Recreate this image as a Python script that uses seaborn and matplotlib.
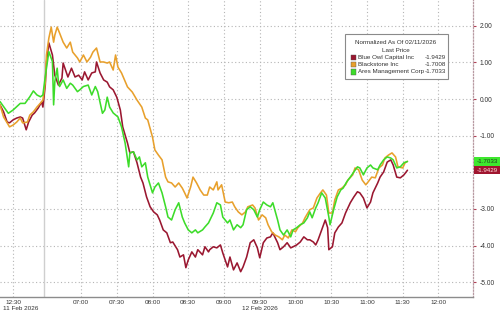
import numpy as np
import pandas as pd
import matplotlib
matplotlib.use("Agg")
import matplotlib.pyplot as plt
import matplotlib.transforms as mtransforms
from matplotlib.patches import Rectangle
from matplotlib import font_manager
import seaborn as sns

# ---------------- data (compressed trading-time minutes, normalized %) ----------------
green_t = [0, 7, 11, 17, 21, 25, 28, 31, 34, 36, 38, 39, 41, 44, 45, 46, 48, 49, 50, 53, 56, 59, 61, 65, 67, 70, 74, 77, 80, 82,
           86, 88, 90, 92, 95, 99, 102, 105, 108, 109, 112, 115, 117, 119, 122, 124, 128, 130, 133, 136, 139, 141, 144, 147, 150,
           153, 155, 158, 161, 164, 166, 170, 172, 175, 179, 182, 185, 187, 191, 193, 196, 199, 202, 204, 207, 210, 213, 216, 218,
           221, 224, 227, 229, 233, 235, 238, 241, 244, 246, 249, 252, 255, 258, 260, 262, 265, 267, 270, 273, 276, 277, 280, 283,
           286, 288, 291, 294, 297, 300, 302, 305, 308, 311, 313, 317, 319, 322, 325, 328, 330, 333, 336, 339, 342]
green_v = [-0.07, -0.39, -0.30, -0.12, -0.12, 0.06, 0.22, 0.11, 0.06, 0.11, 0.61, 0.84, 1.29, 1.02, -0.16, 0.47, 0.84, 0.47, 0.34,
           0.52, 0.29, 0.43, 0.38, 0.20, 0.25, 0.34, 0.38, 0.11, 0.34, 0.20,
           -0.39, -0.30, 0.05, -0.22, -0.38, -0.49, -0.76, -1.20, -1.85, -1.47, -1.44, -1.66, -1.58, -1.85, -1.74, -2.13, -2.56,
           -2.40, -2.29, -2.56, -2.94, -3.22, -3.30, -3.02, -2.83,
           -3.22, -3.38, -3.57, -3.65, -3.57, -3.65, -3.57, -3.49, -3.38, -3.11, -2.83, -2.89, -3.22, -3.38, -3.30, -3.57, -3.43,
           -3.51, -3.43, -3.02, -2.94, -3.02, -3.22, -3.02,
           -2.81, -2.89, -2.94, -2.83, -3.30, -3.57, -3.71, -3.57, -3.76, -3.57, -3.51, -3.43, -3.38, -3.24, -3.08, -3.24, -2.97,
           -2.83, -2.56, -2.70, -3.22, -3.43, -3.02, -2.67,
           -2.48, -2.43, -2.26, -2.13, -1.99, -1.85, -1.88, -2.07, -1.88, -1.80, -1.88, -1.93, -1.80, -1.66, -1.58, -1.61, -1.66,
           -1.88, -1.85, -1.74, -1.7033]

orange_t = [0, 3, 6, 8, 11, 14, 17, 19, 23, 25, 28, 31, 34, 36, 38, 39, 41, 43, 45, 46, 48, 50, 53, 56, 59, 61, 65, 67, 70, 73,
            76, 78, 81, 84, 87, 90, 92, 95, 97, 99, 102, 107, 111, 115, 119, 122, 124, 128, 130, 133, 136, 139, 141, 144, 147,
            150, 153, 155, 157, 160, 162, 165, 168, 171, 174, 176, 179, 182, 183, 186, 189, 192, 195, 197, 200, 203, 206, 208,
            212, 214, 217, 220, 223, 225, 228, 231, 234, 237, 239, 242, 245, 248, 250, 254, 256, 260, 263, 266, 269, 271, 274,
            276, 279, 281, 284, 287, 290, 292, 296, 298, 301, 304, 307, 309, 312, 315, 318, 321, 323, 326, 329, 332, 334, 338,
            340, 342]
orange_v = [-0.16, -0.49, -0.65, -0.76, -0.71, -0.63, -0.52, -0.65, -0.63, -0.44, -0.35, -0.22, -0.11, -0.03, 0.46, 1.20, 1.66,
            1.96, 1.55, 1.74, 1.96, 1.80, 1.55, 1.39, 1.55, 1.28, 1.12, 1.01, 1.20, 1.01,
            1.14, 1.28, 1.39, 1.01, 1.01, 0.98, 1.01, 0.79, 1.20, 0.87, 0.71, 0.33, 0.19, -0.03, -0.22, -0.52, -0.57, -1.04,
            -1.39, -1.53, -1.66, -2.13, -2.26, -2.29, -2.40,
            -2.29, -2.43, -2.56, -2.70, -2.40, -2.13, -2.29, -2.48, -2.62, -2.62, -2.40, -2.48, -2.26, -2.48, -2.34, -2.81,
            -2.83, -2.81, -2.94, -3.08, -3.16, -3.08, -2.94,
            -2.89, -2.97, -3.30, -3.16, -3.24, -3.43, -3.62, -3.71, -3.76, -3.84, -3.71, -3.79, -3.57, -3.62, -3.51, -3.38,
            -3.24, -3.02, -2.97, -2.70, -2.56, -2.48, -2.62,
            -3.11, -3.11, -2.75, -2.48, -2.43, -2.34, -2.21, -2.07, -1.88, -1.93, -2.21, -2.34, -2.26, -2.13, -2.15, -1.88,
            -1.80, -1.61, -1.53, -1.47, -1.58, -1.85, -1.88,
            -1.74, -1.7008]

red_t = [0, 3, 6, 8, 11, 14, 17, 19, 22, 24, 27, 29, 32, 35, 36, 38, 39, 41, 44, 46, 49, 52, 53, 55, 57, 60, 63, 66, 69, 71,
         74, 77, 80, 81, 84, 87, 90, 92, 95, 98, 101, 103, 107, 109, 112, 115, 118, 120, 123, 126, 129, 132, 134, 137, 140,
         143, 145, 149, 151, 154, 156, 158, 161, 164, 166, 170, 172, 175, 176, 179, 182, 185, 187, 191, 193, 196, 199, 202,
         204, 207, 210, 213, 216, 218, 221, 224, 227, 229, 233, 235, 238, 241, 244, 246, 249, 252, 255, 258, 260, 263, 265,
         267, 270, 273, 275, 276, 279, 281, 284, 287, 290, 294, 297, 300, 302, 305, 308, 311, 313, 317, 319, 322, 325, 328,
         330, 333, 336, 339, 342]
red_v = [-0.16, -0.35, -0.63, -0.65, -0.57, -0.52, -0.49, -0.52, -0.84, -0.63, -0.44, -0.38, -0.25, -0.08, -0.22, 0.38, 1.01,
         1.53, 1.20, 0.65, 0.38, 0.57, 0.98, 0.79, 0.60, 0.84, 0.60, 0.65, 0.52, 0.74,
         0.52, 0.71, 0.74, 1.01, 0.71, 0.52, 0.46, 0.33, 0.25, 0.05, -0.30, -0.76, -1.20, -1.47, -1.44, -1.74, -2.13, -2.29,
         -2.67, -2.94, -3.08, -3.16, -3.30, -3.57, -3.65,
         -3.92, -3.90, -4.11, -4.31, -4.25, -4.60, -4.39, -4.17, -4.31, -4.11, -4.25, -4.03, -4.17, -4.11, -4.03, -4.06,
         -3.98, -4.20, -4.58, -4.31, -4.66, -4.47, -4.71,
         -4.58, -4.31, -3.92, -3.84, -4.06, -4.33, -3.92, -3.79, -3.76, -3.65, -3.92, -4.11, -4.03, -3.92, -4.06, -4.03,
         -3.98, -3.90, -3.76, -3.84, -3.84, -3.90, -3.98,
         -3.84, -3.57, -3.30, -3.51, -4.11, -4.03, -3.65, -3.49, -3.38, -3.11, -2.83, -2.67, -2.53, -2.56, -2.70, -2.97,
         -2.81, -2.56, -2.29, -2.13, -1.99, -1.72, -1.66,
         -1.80, -2.13, -2.15, -2.07, -1.9429]

series_names = ["Blue Owl Capital Inc", "Blackstone Inc", "Ares Management Corp"]
last_values = [-1.9429, -1.7008, -1.7033]
series_colors = ["#9a1730", "#e8a02c", "#3ddc2a"]

# x-axis labels (compressed time axis)
tick_labels = ["12:30", "07:00", "07:30", "08:00", "08:30", "09:00", "09:30", "10:00", "10:30", "11:00", "11:30", "12:00"]
tick_pos = [11, 68, 98, 128, 158, 188, 218, 248, 278, 308, 338, 368]
day_break = 37
y_ticks = [2, 1, 0, -1, -2, -3, -4, -5]

# ---------------- fonts ----------------
sns.set_theme(style="white")
available = {f.name for f in font_manager.fontManager.ttflist}
if "Liberation Sans Narrow" in available:
    FONT = ["Liberation Sans Narrow", "Liberation Sans", "DejaVu Sans"]
    FS = 5.1
else:
    FONT = ["Liberation Sans", "DejaVu Sans"]
    FS = 4.2
plt.rcParams['font.family'] = FONT

# ---------------- figure ----------------
W, H = 500, 312
fig = plt.figure(figsize=(W / 100, H / 100), dpi=100)
fig.patch.set_facecolor("white")
ax = fig.add_axes([0, 15 / H, 473 / W, 297 / H])

df = pd.concat([
    pd.DataFrame({"t": red_t, "v": red_v, "series": series_names[0]}),
    pd.DataFrame({"t": orange_t, "v": orange_v, "series": series_names[1]}),
    pd.DataFrame({"t": green_t, "v": green_v, "series": series_names[2]}),
])
palette = dict(zip(series_names, series_colors))
sns.lineplot(data=df, x="t", y="v", hue="series", hue_order=series_names, palette=palette,
             estimator=None, sort=False, legend=False, lw=1.15, ax=ax)

ax.set_xlim(0, 397)
ax.set_ylim(-5.40, 2.70)
ax.set_xlabel("")
ax.set_ylabel("")

# grid
dot = (0, (1, 2.2))
for p in tick_pos:
    ax.axvline(p, color="#b5b5b5", lw=0.8, ls=dot, zorder=0)
for yv in y_ticks:
    ax.axhline(yv, color="#b5b5b5", lw=0.8, ls=dot, zorder=0)
ax.axvline(day_break, color="#cfcfcf", lw=1.0, zorder=0)

# axes styling
for s in ["left", "top"]:
    ax.spines[s].set_visible(False)
ax.spines["bottom"].set_color("#8c8c8c")
ax.spines["bottom"].set_linewidth(1.0)
ax.spines["right"].set_color("#b89aa2")
ax.spines["right"].set_linestyle((0, (1, 1.5)))
ax.spines["right"].set_linewidth(0.9)

ax.set_xticks(tick_pos)
ax.set_xticklabels(tick_labels)
ax.set_xticks([p - 15 for p in tick_pos[1:]] + [26, 383], minor=True)
ax.tick_params(axis="x", which="both", length=1.8, width=0.7, color="#8c8c8c", labelsize=FS + 0.4, pad=0.3,
               labelcolor="#333333")

ax.yaxis.tick_right()
ax.set_yticks(y_ticks)
ax.set_yticklabels(["" if v == -2 else f"{v:.2f}" for v in y_ticks])
ax.tick_params(axis="y", which="both", length=2.5, width=0.8, color="#b04055", labelsize=FS + 0.6, pad=2,
               labelcolor="#333333", right=True, left=False)

# date labels
fig.text(3 / W, 1 - 308.5 / H, "11 Feb 2026", fontsize=FS + 0.4, ha="left", va="center", color="#333333")
fig.text(260 / W, 1 - 308.5 / H, "12 Feb 2026", fontsize=FS + 0.4, ha="center", va="center", color="#333333")

# last-price boxes on right axis
trans = mtransforms.blended_transform_factory(ax.transAxes, ax.transData)
box_h = 8.5 / 36.7
xr0, xr1 = 1.002, 500 / 473
box_style = [(1, "#e8a02c", "#222222"), (2, "#3ee82e", "#1d3a1d"), (0, "#a0152f", "#ffe0e0")]
for k, (idx, fc, tc) in enumerate(box_style):
    val = last_values[idx]
    ax.add_patch(Rectangle((xr0, val - box_h / 2), xr1 - xr0, box_h, transform=trans,
                           facecolor=fc, edgecolor="none", clip_on=False, zorder=5 + 2 * k))
    ax.text((xr0 + xr1) / 2, val, f"{val:.4f}", transform=trans, fontsize=FS + 0.3, color=tc,
            ha="center", va="center", clip_on=False, zorder=6 + 2 * k)

# legend box (custom)
def fx(px):
    return px / W

def fy(py):
    return 1 - py / H

fig.patches.append(Rectangle((fx(345), fy(79)), fx(448) - fx(345), fy(34) - fy(79), transform=fig.transFigure,
                             facecolor="white", edgecolor="#8a8a8a", lw=0.8, zorder=10))
fig.text(fx(396), fy(42.5), "Normalized As Of 02/11/2026", fontsize=FS + 0.3, ha="center", va="center",
         color="#333333", zorder=11)
fig.text(fx(396), fy(50), "Last Price", fontsize=FS + 0.3, ha="center", va="center", color="#333333", zorder=11)
for i, (name, col, val) in enumerate(zip(series_names, series_colors, last_values)):
    yy = 57.5 + i * 7.2
    fig.patches.append(Rectangle((fx(350.5), fy(yy + 2.7)), fx(5.5), fy(0) - fy(5.5), transform=fig.transFigure,
                                 facecolor=col, edgecolor="#555555", lw=0.3, zorder=11))
    fig.text(fx(358), fy(yy), name, fontsize=FS + 0.3, ha="left", va="center", color="#333333", zorder=11)
    fig.text(fx(446), fy(yy), f"{val:.4f}", fontsize=FS + 0.3, ha="right", va="center", color="#333333", zorder=11)

fig.savefig("out.png", dpi=100, facecolor="white")
